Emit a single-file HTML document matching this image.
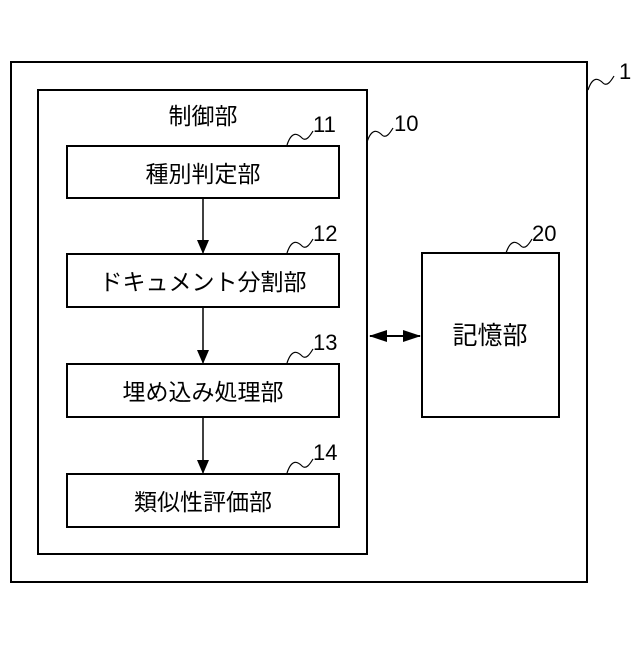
<!DOCTYPE html>
<html><head><meta charset="utf-8"><style>html,body{margin:0;padding:0;background:#fff}</style></head>
<body>
<svg width="640" height="640" xmlns="http://www.w3.org/2000/svg" font-family="Liberation Sans, Noto Sans CJK JP, sans-serif">
<defs>
<marker id="a" markerWidth="12" markerHeight="14" refX="13" refY="6" orient="auto" markerUnits="userSpaceOnUse"><path d="M0,0 L14,6 L0,12 Z" fill="#000"/></marker>
<marker id="b" markerWidth="18" markerHeight="12" refX="17" refY="6" orient="auto-start-reverse" markerUnits="userSpaceOnUse"><path d="M0,0 L18,6 L0,12 Z" fill="#000"/></marker>
</defs>
<g fill="none" stroke="#000" stroke-width="2">
<rect x="11" y="62" width="576" height="520"/>
<rect x="38" y="90" width="329" height="464"/>
<rect x="67" y="146" width="272" height="52"/>
<rect x="67" y="254" width="272" height="53"/>
<rect x="67" y="364" width="272" height="53"/>
<rect x="67" y="474" width="272" height="53"/>
<rect x="422" y="253" width="137" height="164"/>
</g>
<g fill="none" stroke="#000" stroke-width="1.5">
<line x1="203" y1="198" x2="203" y2="253" marker-end="url(#a)"/>
<line x1="203" y1="307" x2="203" y2="363" marker-end="url(#a)"/>
<line x1="203" y1="417" x2="203" y2="473" marker-end="url(#a)"/>
<line x1="370" y1="336" x2="420" y2="336" stroke-width="2" marker-start="url(#b)" marker-end="url(#b)"/>
</g>
<g fill="none" stroke="#000" stroke-width="1.2">
<path d="M287,145 C292,130 298,134 302,138 C306,142 310,136 313,131"/>
<path d="M367,142 C372,127 378,131 382,135 C386,139 390,133 393,128"/>
<path d="M287,253 C292,238 298,242 302,246 C306,250 310,244 313,239"/>
<path d="M287,363 C292,348 298,352 302,356 C306,360 310,354 313,349"/>
<path d="M287,473 C292,458 298,462 302,466 C306,470 310,464 313,459"/>
<path d="M506,253 C511,238 517,242 521,246 C525,250 529,244 532,239"/>
<path d="M588,90 C593,75 599,79 603,83 C607,87 611,81 614,76"/>
</g>
<g font-size="23" fill="#000" text-anchor="middle">
<text x="203" y="124">制御部</text>
<text x="203" y="182">種別判定部</text>
<text x="203" y="290">ドキュメント分割部</text>
<text x="203" y="400">埋め込み処理部</text>
<text x="203" y="510">類似性評価部</text>
<text x="490" y="344" font-size="25">記憶部</text>
</g>
<g font-size="22" fill="#000">
<text x="313" y="132">11</text>
<text x="394" y="131">10</text>
<text x="313" y="241">12</text>
<text x="313" y="350">13</text>
<text x="313" y="460">14</text>
<text x="532" y="241">20</text>
<text x="619" y="79">1</text>
</g>
</svg>
</body></html>
